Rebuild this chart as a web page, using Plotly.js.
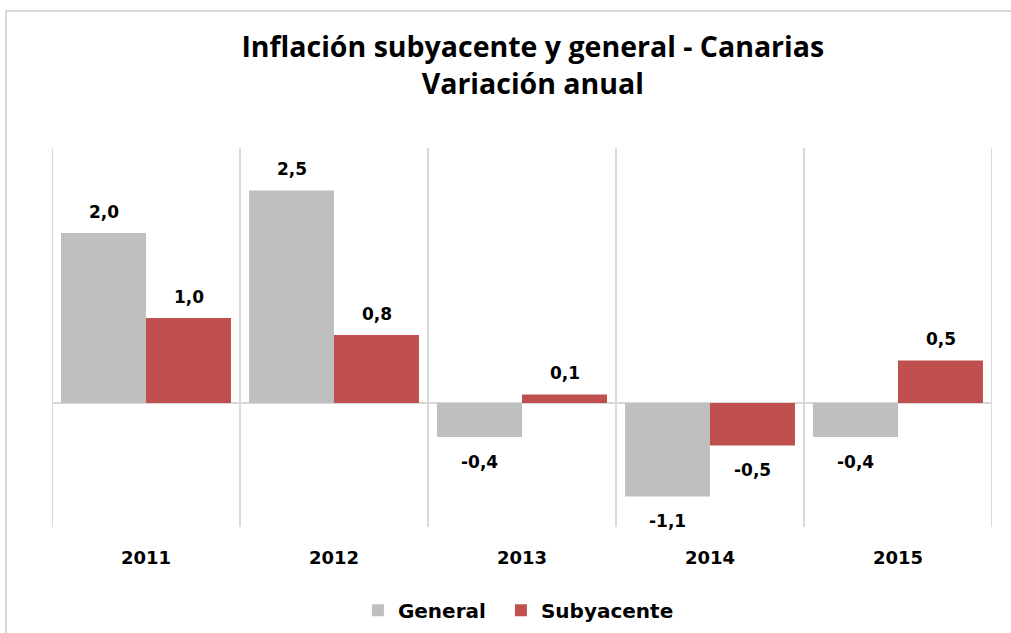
<!DOCTYPE html>
<html>
<head>
<meta charset="utf-8">
<script src="https://cdn.plot.ly/plotly-3.0.1.min.js"></script>
<style>
  html, body { margin: 0; padding: 0; background: #fff; }
  #wrap { position: relative; width: 1011px; height: 633px; overflow: hidden; }
  #chart { width: 1011px; height: 633px; }
  #frame {
    position: absolute; left: 5px; top: 10px; width: 1100px; height: 700px;
    border-left: 2px solid #d9d9d9; border-top: 2px solid #d9d9d9;
    pointer-events: none;
  }
</style>
</head>
<body>
<div id="wrap">
  <div id="chart"></div>
  <div id="frame"></div>
</div>
<script>
  var years = ['2011', '2012', '2013', '2014', '2015'];
  var general = [2.0, 2.5, -0.4, -1.1, -0.4];
  var subyacente = [1.0, 0.8, 0.1, -0.5, 0.5];

  function fmt(v) {
    return v.toFixed(1).replace('.', ',');
  }

  var labelFont = {family: 'DejaVu Sans', size: 17, color: '#000'};
  var legendFont = {family: 'DejaVu Sans', size: 20, color: '#000', weight: 'bold'};

  // data labels sit a bit further from the bars than plotly's "outside" text
  // (x by category index: '2011' as a string would be read as a position)
  function labels(values, shift) {
    return values.map(function(v, i) {
      return {
        x: i,
        y: v,
        xref: 'x',
        yref: 'y',
        text: '<b>' + fmt(v) + '</b>',
        showarrow: false,
        xshift: shift,
        yshift: v >= 0 ? 21 : -25,
        font: labelFont
      };
    });
  }

  // plotly skips the boundary gridlines at both ends of the range
  function edgeLine(x) {
    return {
      type: 'line', xref: 'x', yref: 'paper',
      x0: x, x1: x, y0: 0, y1: 1,
      line: {color: '#d9d9d9', width: 2},
      layer: 'below'
    };
  }

  // one legend per series so the spacing between the two entries can be set
  function legendAt(x) {
    return {
      orientation: 'h',
      x: x,
      xanchor: 'left',
      xref: 'container',
      y: 0.036,
      yref: 'container',
      yanchor: 'middle',
      font: legendFont,
      itemwidth: 30
    };
  }

  var data = [{
      x: years,
      y: general,
      type: 'bar',
      name: 'General',
      marker: {color: '#bfbfbf'},
      legend: 'legend',
      hoverinfo: 'none'
    }, {
      x: years,
      y: subyacente,
      type: 'bar',
      name: 'Subyacente',
      marker: {color: '#c0504d'},
      legend: 'legend2',
      hoverinfo: 'none'
    }
  ];

  var layout = {
    width: 1011,
    height: 633,
    margin: {l: 52, r: 19, t: 148, b: 106, autoexpand: false},
    paper_bgcolor: '#fff',
    plot_bgcolor: '#fff',
    barmode: 'group',
    bargap: 0.096,
    bargroupgap: 0,
    font: {family: 'DejaVu Sans', color: '#000'},
    title: {
      text: '<b>Inflación subyacente y general - Canarias<br>Variación anual</b>',
      font: {family: 'Open Sans', size: 28.5, color: '#000'},
      x: 0.527,
      xanchor: 'center',
      y: 0.91,
      yref: 'container',
      yanchor: 'top'
    },
    xaxis: {
      type: 'category',
      tickson: 'boundaries',
      showgrid: true,
      gridcolor: '#d9d9d9',
      gridwidth: 2,
      ticks: '',
      showline: false,
      zeroline: false,
      ticklabelstandoff: 18,
      tickfont: {family: 'DejaVu Sans', size: 18, color: '#000', weight: 'bold'},
      range: [-0.5, 4.5],
      fixedrange: true
    },
    yaxis: {
      range: [-1.46, 3.0],
      showgrid: false,
      showticklabels: false,
      ticks: '',
      zeroline: true,
      zerolinecolor: '#d9d9d9',
      zerolinewidth: 2,
      fixedrange: true
    },
    shapes: [edgeLine(-0.5), edgeLine(4.5)],
    showlegend: true,
    legend: legendAt(0.354),
    legend2: legendAt(0.4955),
    annotations: labels(general, -42.5).concat(labels(subyacente, 42.5))
  };

  Plotly.newPlot('chart', data, layout, {displayModeBar: false, staticPlot: true});
</script>
</body>
</html>
